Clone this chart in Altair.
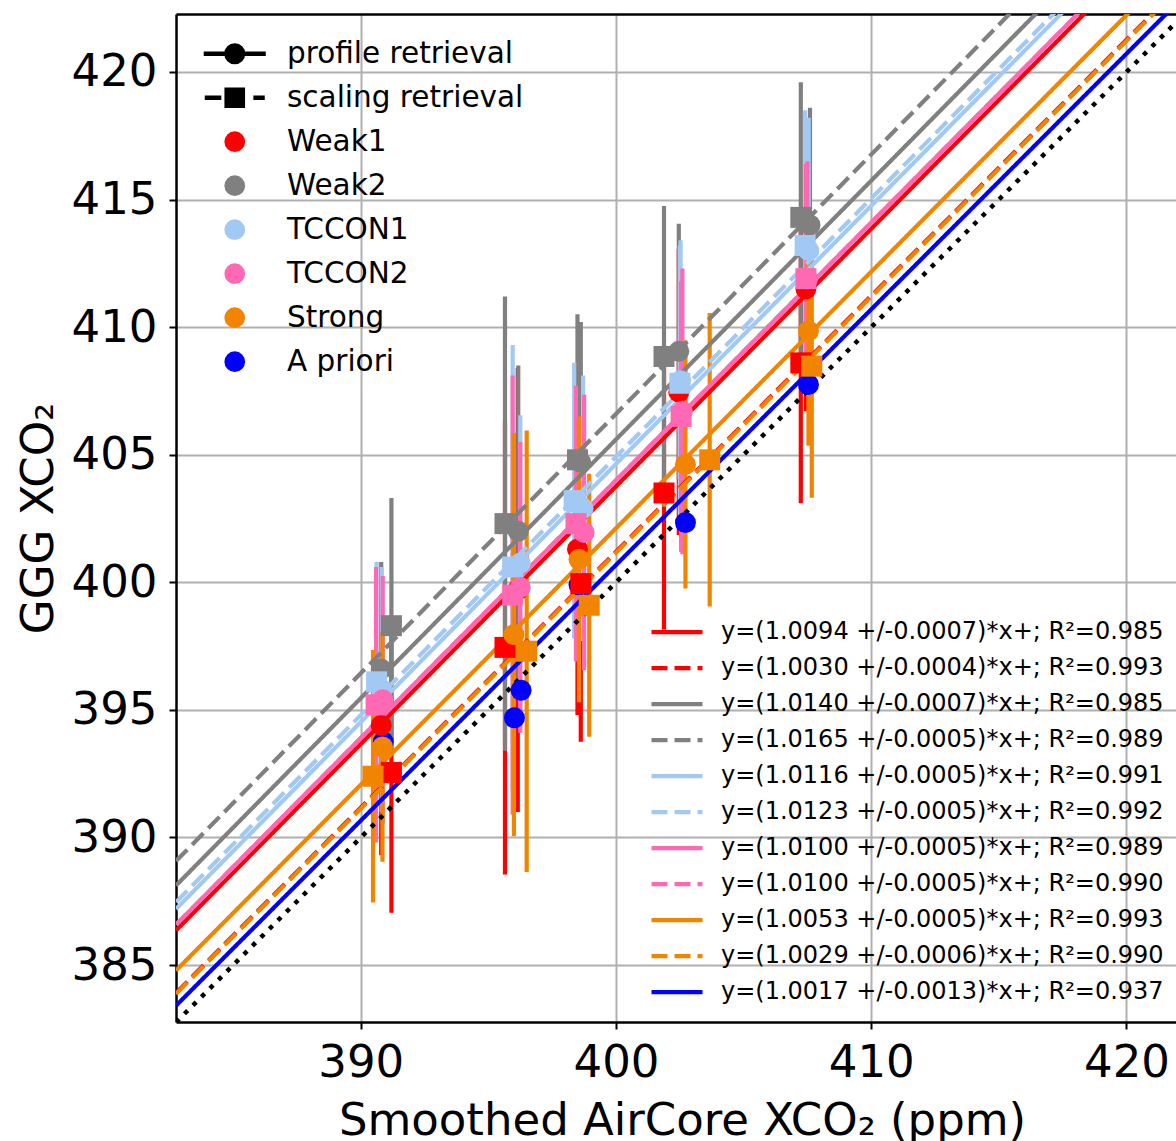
import altair as alt
import pandas as pd

# ---------------- data ----------------
series = ["Weak1", "Weak2", "TCCON1", "TCCON2", "Strong"]
series_colors = ["#ff0000", "#808080", "#a1c9f4", "#ff69b4", "#f28500"]
apriori_color = "#0000ff"

# profile retrieval (circles)
weak1_prof_x = [390.80, 396.15, 398.49, 402.46, 407.44]
weak1_prof_y = [394.40, 399.70, 401.30, 407.45, 411.50]
weak1_prof_e = [5.10, 8.70, 6.50, 5.60, 4.80]
weak2_prof_x = [390.80, 396.17, 398.62, 402.46, 407.60]
weak2_prof_y = [396.60, 402.00, 404.70, 409.05, 414.00]
weak2_prof_e = [4.20, 6.50, 5.50, 5.00, 4.60]
tccon1_prof_x = [390.82, 396.25, 398.71, 402.53, 407.55]
tccon1_prof_y = [395.80, 400.75, 402.90, 407.90, 413.00]
tccon1_prof_e = [4.80, 5.80, 5.20, 5.50, 5.20]
tccon2_prof_x = [390.86, 396.25, 398.75, 402.60, 407.50]
tccon2_prof_y = [395.40, 399.80, 401.95, 406.70, 411.90]
tccon2_prof_e = [4.85, 5.70, 5.40, 5.60, 4.60]
strong_prof_x = [390.85, 396.00, 398.55, 402.72, 407.54]
strong_prof_y = [393.55, 397.95, 400.90, 404.62, 409.85]
strong_prof_e = [4.50, 7.90, 5.60, 4.86, 4.50]

# scaling retrieval (squares)
weak1_scal_x = [391.20, 395.65, 398.62, 401.88, 407.24]
weak1_scal_y = [392.55, 397.45, 399.95, 403.50, 408.60]
weak1_scal_e = [5.50, 8.90, 6.20, 5.35, 5.50]
weak2_scal_x = [391.20, 395.65, 398.49, 401.88, 407.24]
weak2_scal_y = [398.30, 402.30, 404.80, 408.85, 414.30]
weak2_scal_e = [5.00, 8.90, 5.70, 5.90, 5.30]
tccon1_scal_x = [390.62, 395.95, 398.36, 402.50, 407.41]
tccon1_scal_y = [396.10, 400.60, 403.20, 407.80, 413.20]
tccon1_scal_e = [4.70, 8.70, 5.40, 5.40, 5.30]
tccon2_scal_x = [390.60, 395.95, 398.43, 402.55, 407.44]
tccon2_scal_y = [395.20, 399.50, 402.30, 406.50, 411.90]
tccon2_scal_e = [5.40, 8.60, 5.40, 5.30, 4.50]
strong_scal_x = [390.48, 396.50, 398.95, 403.67, 407.67]
strong_scal_y = [392.40, 397.30, 399.10, 404.80, 408.47]
strong_scal_e = [4.95, 8.65, 5.15, 5.75, 5.16]

# a priori (blue circles)
apriori_x = [390.88, 396.28, 396.02, 398.55, 402.72, 407.54]
apriori_y = [393.75, 395.77, 394.69, 399.90, 402.34, 407.75]

# regression lines y = slope * x
fit_slopes = [1.0094, 1.0030, 1.0140, 1.0165, 1.0116, 1.0123, 1.0100, 1.0100, 1.0053, 1.0029, 1.0017]
fit_errs = [0.0007, 0.0004, 0.0007, 0.0005, 0.0005, 0.0005, 0.0005, 0.0005, 0.0005, 0.0006, 0.0013]
fit_r2 = [0.985, 0.993, 0.985, 0.989, 0.991, 0.992, 0.989, 0.990, 0.993, 0.990, 0.937]
fit_colors = ["#ff0000", "#ff0000", "#808080", "#808080", "#a1c9f4", "#a1c9f4",
              "#ff69b4", "#ff69b4", "#f28500", "#f28500", "#0000ff"]
fit_styles = ["solid", "dashed", "solid", "dashed", "solid", "dashed",
              "solid", "dashed", "solid", "dashed", "solid"]

legend_labels = ["profile retrieval", "scaling retrieval"] + series + ["A priori"]

X_DOMAIN = [382.76, 421.94]
Y_DOMAIN = [382.77, 422.27]

# ---------------- tables ----------------
prof = {
    "Weak1": (weak1_prof_x, weak1_prof_y, weak1_prof_e),
    "Weak2": (weak2_prof_x, weak2_prof_y, weak2_prof_e),
    "TCCON1": (tccon1_prof_x, tccon1_prof_y, tccon1_prof_e),
    "TCCON2": (tccon2_prof_x, tccon2_prof_y, tccon2_prof_e),
    "Strong": (strong_prof_x, strong_prof_y, strong_prof_e),
}
scal = {
    "Weak1": (weak1_scal_x, weak1_scal_y, weak1_scal_e),
    "Weak2": (weak2_scal_x, weak2_scal_y, weak2_scal_e),
    "TCCON1": (tccon1_scal_x, tccon1_scal_y, tccon1_scal_e),
    "TCCON2": (tccon2_scal_x, tccon2_scal_y, tccon2_scal_e),
    "Strong": (strong_scal_x, strong_scal_y, strong_scal_e),
}

rows = []
for xv, yv in zip(apriori_x, apriori_y):
    rows.append({"series": "A priori", "retrieval": "profile", "x": xv, "y": yv, "e": 0.0})
for s in series:
    for name, src in (("profile", prof), ("scaling", scal)):
        xs_, ys_, es_ = src[s]
        for xv, yv, ev in zip(xs_, ys_, es_):
            rows.append({"series": s, "retrieval": name, "x": xv, "y": yv, "e": ev})
pts = pd.DataFrame(rows)
pts["lo"] = pts["y"] - pts["e"]
pts["hi"] = pts["y"] + pts["e"]
errs = pts[pts["series"] != "A priori"]

fit_labels = [f"y=({s:.4f} +/-{e:.4f})*x+; R\u00b2={r:.3f}" for s, e, r in zip(fit_slopes, fit_errs, fit_r2)]
fit_rows = []
for lab, s in zip(fit_labels, fit_slopes):
    for xv in X_DOMAIN:
        fit_rows.append({"label": lab, "x": xv, "y": s * xv})
fits = pd.DataFrame(fit_rows)
one = pd.DataFrame({"x": X_DOMAIN, "y": X_DOMAIN})

leg_df = pd.DataFrame({"label": legend_labels, "x": [None] * len(legend_labels), "y": [None] * len(legend_labels)})

# ---------------- styling ----------------
FONT = "DejaVu Sans"
all_series = series + ["A priori"]
all_colors = series_colors + [apriori_color]
xs = alt.Scale(domain=X_DOMAIN, nice=False, zero=False)
ys = alt.Scale(domain=Y_DOMAIN, nice=False, zero=False)
dash_map = {"solid": [1, 0], "dashed": [16, 7]}

x_axis = alt.Axis(orient="bottom", values=[390, 400, 410, 420], format="d",
                  labelFontSize=45, labelFont=FONT, labelColor="black", labelPadding=11,
                  tickSize=7, tickWidth=2, tickColor="black",
                  domain=True, domainColor="black", domainWidth=2.5,
                  grid=True, gridColor="#b0b0b0", gridWidth=2,
                  title="Smoothed AirCore XCO\u2082 (ppm)", titleFontSize=45, titleFont=FONT,
                  titleFontWeight="normal", titleColor="black",
                  titleX=506, titleY=112, titleBaseline="alphabetic", titleAlign="center")
y_axis = alt.Axis(orient="left", values=[385, 390, 395, 400, 405, 410, 415, 420], format="d",
                  labelFontSize=45, labelFont=FONT, labelColor="black", labelPadding=12,
                  tickSize=7, tickWidth=2, tickColor="black",
                  domain=True, domainColor="black", domainWidth=2.5,
                  grid=True, gridColor="#b0b0b0", gridWidth=2,
                  title="GGG XCO\u2082", titleFontSize=45, titleFont=FONT,
                  titleFontWeight="normal", titleColor="black", titleAngle=270,
                  titleX=-124, titleY=504, titleBaseline="alphabetic", titleAlign="center")
top_axis = alt.Axis(orient="top", labels=False, ticks=False, grid=False, domain=True,
                    domainColor="black", domainWidth=2.5, title="")

leg_fit = alt.Legend(orient="none", legendX=473, legendY=600.5, title=None,
                     labelFontSize=24, labelFont=FONT, labelColor="black", labelLimit=0,
                     symbolType="stroke", symbolSize=2601, symbolStrokeWidth=4.2,
                     labelOffset=16, rowPadding=0, clipHeight=35.3, padding=0)
leg_main = alt.Legend(orient="none", legendX=24, legendY=18, title=None,
                      labelFontSize=29.5, labelFont=FONT, labelColor="black", labelLimit=0,
                      symbolSize=428, symbolStrokeWidth=4.5, symbolOffset=20,
                      labelOffset=37.5, rowPadding=0, clipHeight=43.4, padding=0)

profile_path = "M-3,0L3,0M0.8,0A0.8,0.8,0,1,1,-0.8,0A0.8,0.8,0,1,1,0.8,0Z"
scaling_path = "M-2.9,0L-1.3,0M1.8,0L2.9,0M-0.78,-0.78L0.78,-0.78L0.78,0.78L-0.78,0.78Z"
legend_shapes = [profile_path, scaling_path] + ["circle"] * 6
legend_fill = ["black", "black"] + all_colors
legend_stroke = ["black", "black"] + ["transparent"] * 6

# ---------------- layers ----------------
errbars = alt.Chart(errs).mark_rule(strokeWidth=4.2).encode(
    x=alt.X("x:Q", scale=xs, axis=x_axis),
    y=alt.Y("lo:Q", scale=ys, axis=y_axis),
    y2="hi:Q",
    color=alt.Color("series:N", scale=alt.Scale(domain=all_series, range=all_colors), legend=None),
)

lines = alt.Chart(fits).mark_line(strokeWidth=4.2, clip=True).encode(
    x=alt.X("x:Q", scale=xs, axis=None),
    y=alt.Y("y:Q", scale=ys, axis=None),
    color=alt.Color("label:N", scale=alt.Scale(domain=fit_labels, range=fit_colors), legend=leg_fit),
    strokeDash=alt.StrokeDash("label:N", scale=alt.Scale(domain=fit_labels, range=[dash_map[s] for s in fit_styles]), legend=leg_fit),
)

one2one = alt.Chart(one).mark_line(color="black", strokeWidth=4.5, strokeDash=[4.5, 7.5], clip=True).encode(
    x=alt.X("x:Q", scale=xs, axis=None),
    y=alt.Y("y:Q", scale=ys, axis=None),
)

points = alt.Chart(pts).mark_point(filled=True, size=441, opacity=1, strokeWidth=0).encode(
    x=alt.X("x:Q", scale=xs, axis=None),
    y=alt.Y("y:Q", scale=ys, axis=None),
    color=alt.Color("series:N", scale=alt.Scale(domain=all_series, range=all_colors), legend=None),
    shape=alt.Shape("retrieval:N", scale=alt.Scale(domain=["profile", "scaling"], range=["circle", "square"]), legend=None),
)

legend_layer = alt.Chart(leg_df).mark_point(filled=True, opacity=1, size=428).encode(
    x=alt.X("x:Q", scale=xs, axis=top_axis),
    y=alt.Y("y:Q", scale=ys, axis=None),
    color=alt.Color("label:N", scale=alt.Scale(domain=legend_labels, range=legend_fill), legend=leg_main),
    stroke=alt.Stroke("label:N", scale=alt.Scale(domain=legend_labels, range=legend_stroke), legend=leg_main),
    shape=alt.Shape("label:N", scale=alt.Scale(domain=legend_labels, range=legend_shapes), legend=leg_main),
)

chart = alt.layer(errbars, lines, one2one, points, legend_layer).resolve_scale(
    color="independent", shape="independent", stroke="independent", strokeDash="independent"
).resolve_axis(
    x="independent", y="independent"
).properties(
    width=1000, height=1008,
    autosize=alt.AutoSizeParams(type="none"),
    padding={"left": 176, "top": 14, "right": 0, "bottom": 119},
    background="white",
).configure_view(
    strokeWidth=0
).configure(font=FONT)

chart.save("out.html", embed_options={"renderer": "svg", "actions": False})
